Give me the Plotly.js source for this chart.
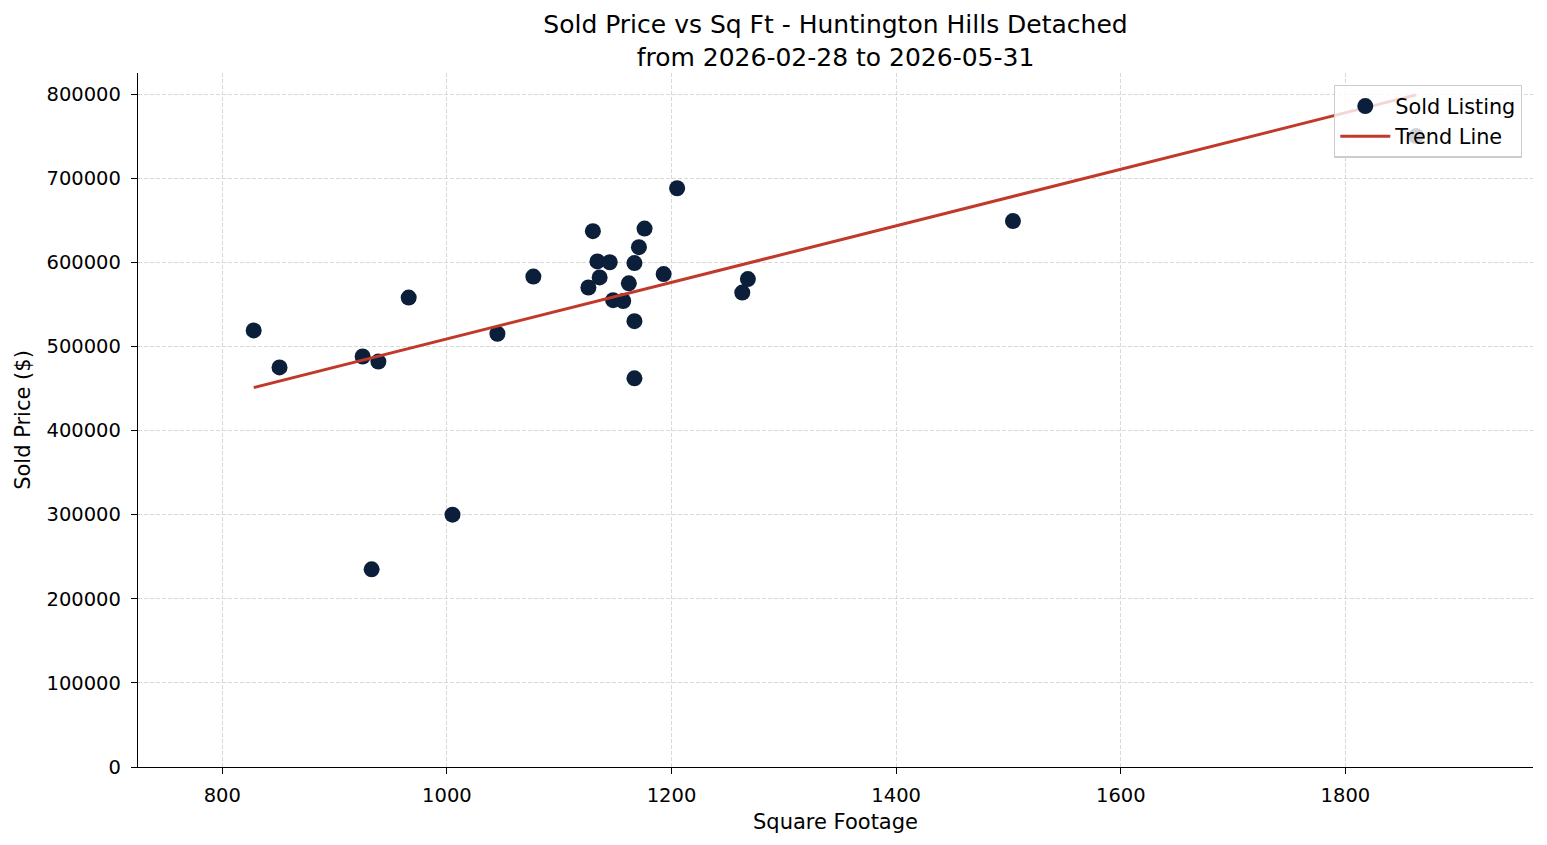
<!DOCTYPE html>
<html>
<head>
<meta charset="utf-8">
<script src="https://cdn.plot.ly/plotly-3.0.1.min.js"></script>
<style>html,body{margin:0;padding:0;background:#fff;}#chart{width:1547px;height:845px;}</style>
</head>
<body>
<div id="chart"></div>
<script>
const sqft = [828, 851, 925, 939, 966, 933, 1005, 1045, 1077, 1126, 1130, 1134, 1136, 1145, 1148, 1157, 1162, 1167, 1167, 1167, 1171, 1176, 1193, 1205, 1263, 1268, 1504, 1863];
const price = [519000, 475000, 488000, 482000, 558000, 235000, 300000, 515000, 583000, 570000, 637000, 601000, 582000, 600000, 555000, 554000, 575000, 599000, 530000, 462000, 618000, 640000, 586000, 688000, 564000, 580000, 649000, 750000];
const trendX = [828, 1863];
const trendY = [451000, 799000];
const xTicks = [800, 1000, 1200, 1400, 1600, 1800];
const yTicks = [0, 100000, 200000, 300000, 400000, 500000, 600000, 700000, 800000];

const font = {family: 'DejaVu Sans, sans-serif', color: '#000'};
const data = [
  {x: sqft, y: price, type: 'scatter', mode: 'markers', name: 'Sold Listing',
   marker: {color: '#0b1f3a', size: 16}},
  {x: trendX, y: trendY, type: 'scatter', mode: 'lines', name: 'Trend Line',
   line: {color: '#c0392b', width: 3}}
];
const gridStyle = {showgrid: true, gridcolor: '#d9d9d9', griddash: '4px,2px', gridwidth: 0.8};
const layout = {
  width: 1547, height: 845,
  paper_bgcolor: '#fff', plot_bgcolor: '#fff',
  margin: {l: 138, r: 14, t: 73, b: 78},
  font: Object.assign({size: 19}, font),
  title: {text: 'Sold Price vs Sq Ft - Huntington Hills Detached<br>from 2026-02-28 to 2026-05-31',
          font: Object.assign({size: 25}, font), xref: 'paper', x: 0.5, xanchor: 'center',
          yref: 'container', y: 1 - 33/845, yanchor: 'middle'},
  xaxis: Object.assign({range: [725, 1967], tickvals: xTicks, ticktext: xTicks.map(String),
          showline: true, linecolor: '#000', linewidth: 1.3, mirror: false,
          ticks: 'outside', ticklen: 6, tickwidth: 1.3, tickcolor: '#000', ticklabelstandoff: 4,
          zeroline: false, tickfont: Object.assign({size: 19.5}, font),
          title: {text: 'Square Footage', font: Object.assign({size: 21}, font), standoff: 8}}, gridStyle),
  yaxis: Object.assign({range: [0, 825000], tickvals: yTicks, ticktext: yTicks.map(String),
          showline: true, linecolor: '#000', linewidth: 1.3, mirror: false,
          ticks: 'outside', ticklen: 6, tickwidth: 1.3, tickcolor: '#000', ticklabelstandoff: 6,
          zeroline: false, tickfont: Object.assign({size: 19.5}, font),
          title: {text: 'Sold Price ($)', font: Object.assign({size: 21}, font), standoff: 10}}, gridStyle),
  legend: {x: 0.9921, y: 0.983, xanchor: 'right', yanchor: 'top',
           bgcolor: 'rgba(255,255,255,0.8)', bordercolor: '#cccccc', borderwidth: 1.3,
           font: Object.assign({size: 20.8}, font), tracegroupgap: 0, itemwidth: 50},
  showlegend: true
};
Plotly.newPlot('chart', data, layout, {displayModeBar: false});
</script>
</body>
</html>
